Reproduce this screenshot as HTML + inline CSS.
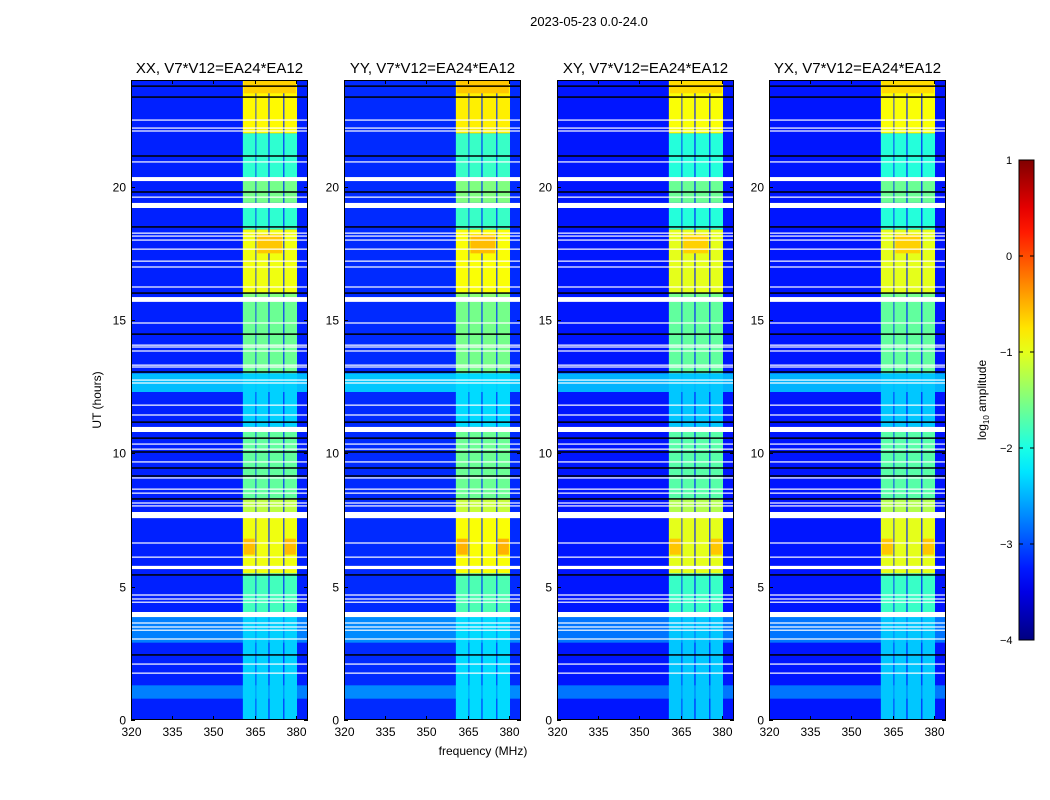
<!DOCTYPE html>
<html><head><meta charset="utf-8"><style>
body{margin:0;background:#fff;width:1050px;height:800px;overflow:hidden;font-family:"Liberation Sans",sans-serif;}
#wrap{position:relative;width:1050px;height:800px;}
</style></head><body>
<div id="wrap">
<svg id="svg" width="1050" height="800" style="position:absolute;left:0;top:0"></svg>
</div>
<script>
// ---- data ----
const panelTitles=["XX, V7*V12=EA24*EA12","YY, V7*V12=EA24*EA12","XY, V7*V12=EA24*EA12","YX, V7*V12=EA24*EA12"];
const panelOffset=[0,0.05,-0.05,-0.05];
const xTicks=[320,335,350,365,380];
const yTicks=[0,5,10,15,20];
const cbTicks=[1,0,-1,-2,-3,-4];
const bgLevel=-3.22;
const bgStreakStart=[0.8,12.3,2.9];
const bgStreakEnd=[1.3,13.0,3.9];
const bgStreakLevel=[-2.75,-2.45,-2.75];
const bandFreqStart=[360.7,365.6,370.4,375.8];
const bandFreqEnd=[365.3,370.0,375.4,380.4];
const segStart=[0,3.9,5.5,7.6,8.3,11,13,15.7,16,18.4,19.2,19.4,20.3,22];
const segEnd=[3.9,5.5,7.6,8.3,11,13,15.7,16,18.4,19.2,19.4,20.3,22,24];
const segLevel=[-2.35,-1.8,-0.95,-1.2,-1.65,-2.35,-1.6,-1.5,-0.95,-1.9,-1.6,-1.55,-1.9,-0.85];
const hotStart=[6.2,6.2,17.5,23.5];
const hotEnd=[6.8,6.8,18.2,24];
const hotF0=[361,376,366,361];
const hotF1=[365,380,375,380];
const hotLevel=[-0.55,-0.55,-0.6,-0.65];
const gapStart=[22.48,22.18,22.07,20.91,20.21,19.59,19.2,18.24,18.13,17.98,17.64,17.19,16.97,16.22,15.68,14.87,14.04,13.97,13.82,13.29,13.22,12.73,12.62,11.79,11.42,10.8,10.33,10.14,9.66,9.06,8.64,8.49,8.12,8.01,7.57,6.62,6.09,5.66,4.67,4.52,4.4,3.86,3.62,3.47,3.35,3.02,2.08,1.74];
const gapEnd=[22.52,22.22,22.11,20.95,20.36,19.63,19.39,18.28,18.17,18.02,17.68,17.23,17.01,16.26,15.86,14.91,14.08,14.01,13.86,13.33,13.26,12.77,12.66,11.83,11.46,10.99,10.37,10.18,9.7,9.1,8.68,8.53,8.16,8.05,7.8,6.66,6.13,5.78,4.71,4.56,4.44,4.05,3.66,3.51,3.39,3.06,2.12,1.78];
const blackHour=[23.77,23.36,21.15,19.8,18.49,16.01,14.47,13.05,11.17,10.57,10.05,9.45,9.15,8.29,5.44,2.44];

// ---- helpers ----
const NS="http://www.w3.org/2000/svg";
const svg=document.getElementById('svg');
function mk(tag,attrs,parent){const e=document.createElementNS(NS,tag);for(const k in attrs)e.setAttribute(k,attrs[k]);(parent||svg).appendChild(e);return e;}
function jet(v){let t=(v+4)/5;t=Math.max(0,Math.min(1,t));const c=x=>Math.round(255*Math.max(0,Math.min(1,x)));
return `rgb(${c(1.5-Math.abs(4*t-3))},${c(1.5-Math.abs(4*t-2))},${c(1.5-Math.abs(4*t-1))})`;}
const panelLeft=[131,344,557,769];
const pw=177, top0=80, bottom0=720;
const fMin=320,fMax=384.4;

const title=mk('text',{x:589,y:26,'font-size':13,'text-anchor':'middle',fill:'#000'});
title.textContent='2023-05-23 0.0-24.0';



panelTitles.forEach((pt,p)=>{
  const L=panelLeft[p];
  const xs=f=>L+(f-fMin)/(fMax-fMin)*pw;
  const ys=h=>bottom0-(h/24)*(bottom0-top0);
  const g=mk('g',{});
  
  
  const off=panelOffset[p];
  const bg=mk('rect',{x:L,y:top0,width:pw,height:bottom0-top0,fill:jet(bgLevel+off)},g);
  
  
  bgStreakStart.forEach((s,i)=>{
    const r=mk('rect',{x:L,y:ys(bgStreakEnd[i]),width:pw,height:ys(s)-ys(bgStreakEnd[i]),fill:jet(bgStreakLevel[i]+off)},g);
    
    
  });
  segStart.forEach((s,i)=>{
    bandFreqStart.forEach((f0,j)=>{
      const r=mk('rect',{x:xs(f0),y:ys(segEnd[i]),width:xs(bandFreqEnd[j])-xs(f0),height:ys(s)-ys(segEnd[i]),fill:jet(segLevel[i]+off)},g);
      
      
    });
  });
  hotStart.forEach((s,i)=>{
    const r=mk('rect',{x:xs(hotF0[i]),y:ys(hotEnd[i]),width:xs(hotF1[i])-xs(hotF0[i]),height:ys(s)-ys(hotEnd[i]),fill:jet(hotLevel[i]+off)},g);
    
    
  });
  blackHour.forEach(h=>{
    const r=mk('rect',{x:L,y:ys(h)-0.75,width:pw,height:1.5,fill:'#000'},g);
    
    
  });
  gapStart.forEach((s,i)=>{
    const r=mk('rect',{x:L,y:ys(gapEnd[i]),width:pw,height:Math.max(1.2,ys(s)-ys(gapEnd[i])),fill:'#fff'},g);
    
    
  });
  const fr=mk('rect',{x:L+0.5,y:top0+0.5,width:pw-1,height:bottom0-top0-1,fill:'none',stroke:'#000','stroke-width':1},g);
  
  
  xTicks.forEach(t=>{
    const x=Math.round(xs(t))+0.5;
    mk('line',{x1:x,x2:x,y1:bottom0,y2:bottom0-4,stroke:'#000'},g);
    mk('line',{x1:x,x2:x,y1:top0,y2:top0+4,stroke:'#000'},g);
    const tx=mk('text',{x:x,y:bottom0+16,'font-size':12,'text-anchor':'middle'},g);
    tx.textContent=t;
    
    
  });
  yTicks.forEach(t=>{
    const y=Math.round(ys(t))+0.5;
    mk('line',{x1:L,x2:L+4,y1:y,y2:y,stroke:'#000'},g);
    mk('line',{x1:L+pw,x2:L+pw-4,y1:y,y2:y,stroke:'#000'},g);
    const tx=mk('text',{x:L-5,y:y+4,'font-size':12,'text-anchor':'end'},g);
    tx.textContent=t;
    
    
  });
  const ttl=mk('text',{x:L+pw/2,y:73,'font-size':15,'text-anchor':'middle'},g);
  ttl.textContent=pt;
  
  
});

const yl=mk('text',{x:0,y:0,'font-size':12,'text-anchor':'middle',transform:'translate(101,400) rotate(-90)'});
yl.textContent='UT (hours)';


const xl=mk('text',{x:483,y:755,'font-size':12,'text-anchor':'middle'});
xl.textContent='frequency (MHz)';



// colorbar
const cbX=1019,cbW=15,cbTop=160,cbBot=640;
const defs=mk('defs',{});
const lg=mk('linearGradient',{id:'cbg',x1:0,y1:1,x2:0,y2:0},defs);
for(let i=0;i<=20;i++){const v=-4+5*i/20;mk('stop',{offset:(i/20),'stop-color':jet(v)},lg);}
const cb=mk('rect',{x:cbX,y:cbTop,width:cbW,height:cbBot-cbTop,fill:'url(#cbg)',stroke:'#000'});


cbTicks.forEach(t=>{
  const y=cbBot-(t+4)/5*(cbBot-cbTop);
  mk('line',{x1:cbX,x2:cbX+4,y1:y,y2:y,stroke:'#000'});
  mk('line',{x1:cbX+cbW,x2:cbX+cbW-4,y1:y,y2:y,stroke:'#000'});
  const tx=mk('text',{x:t<0?1000:1006,y:y+4,'font-size':11,'text-anchor':'start'});
  tx.textContent=(t<0?'\u2212'+(-t):t);
  
  
});
const cl=mk('text',{x:0,y:0,'font-size':12,'text-anchor':'middle',transform:'translate(986,400) rotate(-90)'});
cl.innerHTML='log<tspan font-size="8" dy="3">10</tspan><tspan dy="-3"> amplitude</tspan>';


</script>
</body></html>
